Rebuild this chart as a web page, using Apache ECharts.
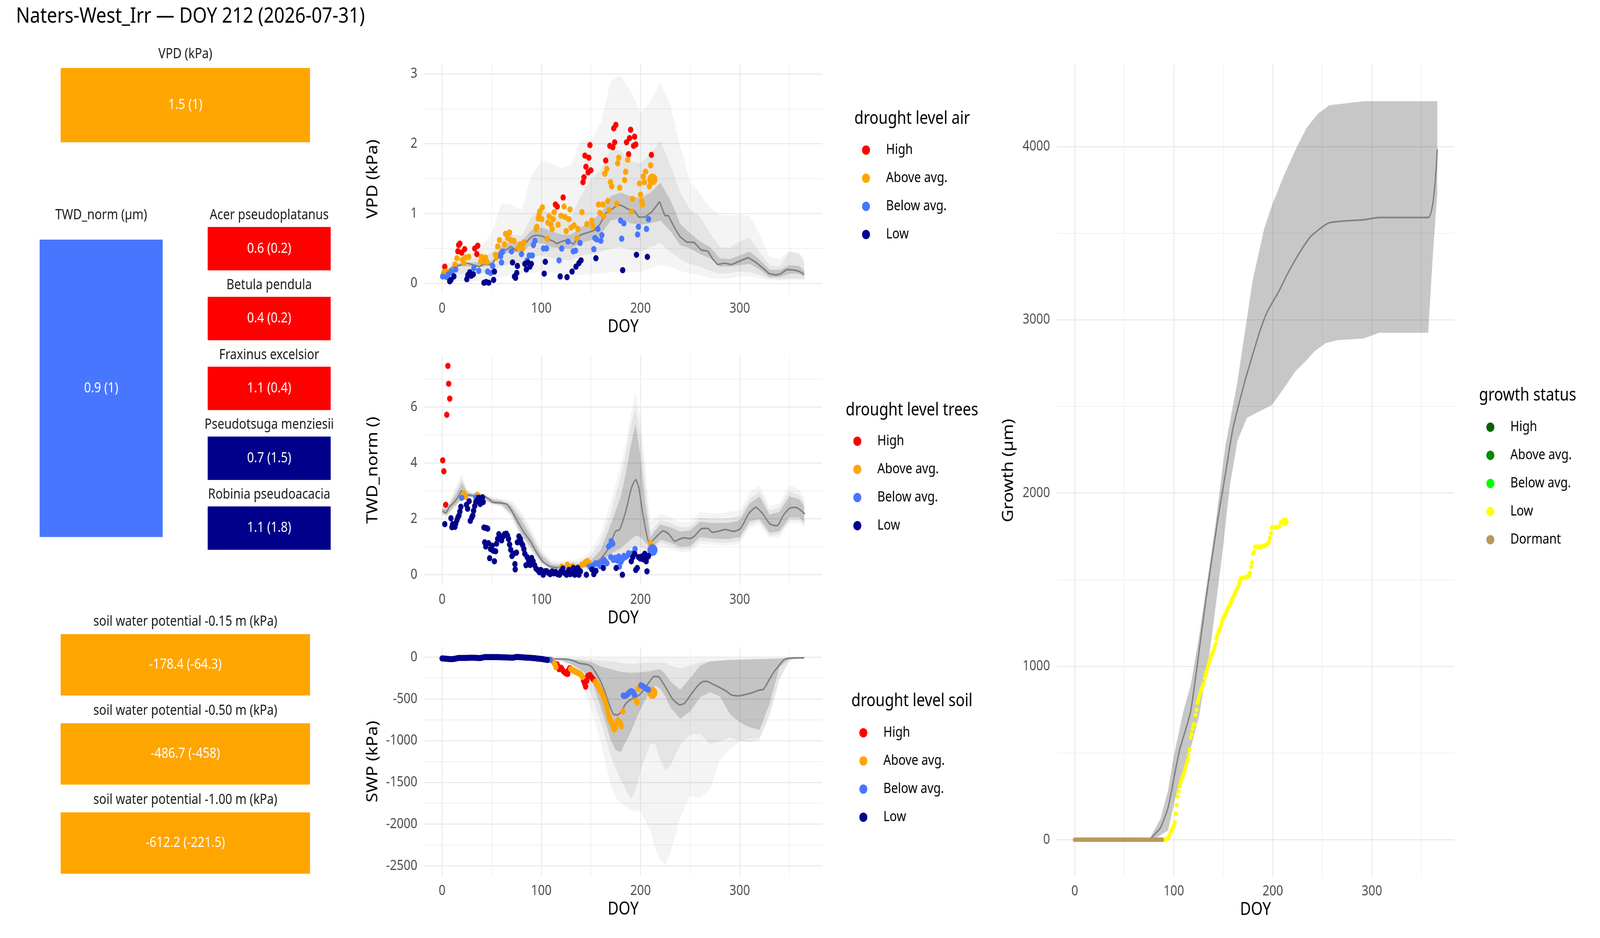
<!DOCTYPE html>
<html><head><meta charset="utf-8">
<script src="https://cdn.jsdelivr.net/npm/echarts@6/dist/echarts.min.js"></script>
<style>
html,body{margin:0;padding:0;background:#fff;overflow:hidden;width:100%;height:100%}
#wrap{position:relative;width:100vw;height:100vh;overflow:hidden;background:#fff}
#c{position:absolute;left:0;top:0;width:4800px;height:2400px;transform-origin:0 0}
</style>
</head><body><div id="wrap"><div id="c"></div></div>
<script>
// ---------------- DATA ----------------
const TITLE = 'Naters-West_Irr \u2014 DOY 212 (2026-07-31)';
const CURRENT_DOY = 212;
const LEVELS = ['High','Above avg.','Below avg.','Low'];
const LEVEL_COLORS = ['#FF0000','#FFA500','#4876FF','#00008B'];
const GROWTH_LEVELS = ['High','Above avg.','Below avg.','Low','Dormant'];
const GROWTH_COLORS = ['#006400','#008B00','#00FF00','#FFFF00','#B99A5B'];

// tiles
const vpdTileNames = ['VPD (kPa)'];
const vpdTileTexts = ['1.5 (1)'];
const vpdTileLevels = ['Above avg.'];
const twdTileNames = ['TWD_norm (\u00b5m)'];
const twdTileTexts = ['0.9 (1)'];
const twdTileLevels = ['Below avg.'];
const speciesNames = ['Acer pseudoplatanus','Betula pendula','Fraxinus excelsior','Pseudotsuga menziesii','Robinia pseudoacacia'];
const speciesTexts = ['0.6 (0.2)','0.4 (0.2)','1.1 (0.4)','0.7 (1.5)','1.1 (1.8)'];
const speciesLevels = ['High','High','High','Low','Low'];
const soilNames = ['soil water potential -0.15 m (kPa)','soil water potential -0.50 m (kPa)','soil water potential -1.00 m (kPa)'];
const soilTexts = ['-178.4 (-64.3)','-486.7 (-458)','-612.2 (-221.5)'];
const soilLevels = ['Above avg.','Above avg.','Above avg.'];

// axes ticks
const X_MAJOR = [0,100,200,300];
const X_MINOR = [50,150,250,350];
const VPD_MAJOR = [0,1,2,3], VPD_MINOR = [0.5,1.5,2.5];
const TWD_MAJOR = [0,2,4,6], TWD_MINOR = [1,3,5,7];
const SWP_MAJOR = [-2500,-2000,-1500,-1000,-500,0], SWP_MINOR = [-2250,-1750,-1250,-750,-250];
const GR_MAJOR = [0,1000,2000,3000,4000], GR_MINOR = [500,1500,2500,3500];

// VPD
const vpdHigh = [[2.7,0.24],[15.9,0.46],[16.7,0.55],[17.9,0.57],[19.7,0.44],[22.7,0.49],[32.9,0.50],[35.0,0.42],[35.9,0.54],[114.2,1.13],[116.0,1.10],[122.0,1.23],[142.0,1.45],[143.0,1.52],[143.9,1.83],[145.0,1.67],[147.2,1.59],[147.9,1.80],[149.0,1.98],[149.9,1.62],[164.9,1.76],[169.0,1.97],[172.0,1.95],[173.0,2.22],[173.9,2.02],[175.1,2.27],[185.9,2.02],[188.0,1.85],[188.9,2.08],[190.0,2.20],[193.0,1.97],[194.0,2.10],[195.2,1.99],[211.0,1.84]];
const vpdAbove = [[1.6,0.16],[3.9,0.17],[12.9,0.27],[14.9,0.36],[20.4,0.34],[21.9,0.29],[23.4,0.37],[26.9,0.38],[38.9,0.31],[39.5,0.38],[41.6,0.32],[43.7,0.37],[45.2,0.31],[53.9,0.41],[54.9,0.37],[56.0,0.53],[57.9,0.62],[62.9,0.56],[63.9,0.71],[66.2,0.65],[67.9,0.73],[69.2,0.62],[72.2,0.61],[76.7,0.51],[78.9,0.56],[81.2,0.50],[82.4,0.59],[94.7,0.78],[95.4,0.81],[96.9,0.93],[97.7,0.98],[98.4,1.03],[100.4,0.92],[101.0,1.09],[105.9,0.64],[106.7,0.87],[107.9,0.96],[109.7,0.84],[110.9,0.78],[112.0,0.92],[113.0,1.02],[116.9,0.84],[119.9,0.97],[122.9,1.10],[124.0,0.95],[125.0,0.75],[127.7,0.92],[128.9,1.06],[130.0,0.80],[133.0,0.83],[136.0,0.65],[137.0,0.78],[140.9,1.02],[146.0,0.85],[150.9,0.90],[152.0,0.82],[157.7,1.13],[158.9,1.01],[162.2,1.13],[163.0,0.96],[164.0,1.57],[166.0,1.64],[167.0,1.18],[168.2,1.05],[169.7,1.45],[170.9,1.39],[176.0,1.14],[176.9,1.72],[178.0,1.80],[179.0,1.37],[183.9,1.48],[185.0,1.60],[187.0,1.77],[191.0,1.03],[191.9,1.21],[199.0,1.43],[200.0,1.27],[200.9,1.18],[202.0,1.13],[202.7,1.53],[203.9,1.45],[205.0,1.60],[209.0,1.39],[210.2,1.69],[212,1.49]];
const vpdBelow = [[0.5,0.10],[4.7,0.09],[6.2,0.13],[9.9,0.16],[13.7,0.20],[32.0,0.22],[36.9,0.18],[45.9,0.17],[48.9,0.15],[50.9,0.25],[59.0,0.39],[59.9,0.30],[60.9,0.45],[69.9,0.46],[80.0,0.42],[85.7,0.33],[87.9,0.40],[90.9,0.40],[92.0,0.55],[93.5,0.61],[102.2,0.50],[105.2,0.50],[117.9,0.33],[120.5,0.50],[126.9,0.60],[132.2,0.46],[134.5,0.47],[139.0,0.58],[152.9,0.49],[154.0,0.65],[155.9,0.63],[157.0,0.78],[160.0,0.61],[161.0,0.69],[179.9,0.90],[181.0,0.64],[183.2,0.86],[197.0,0.70],[197.9,0.81],[206.0,0.78],[208.0,0.92]];
const vpdLow = [[7.7,0.03],[8.9,0.05],[11.9,0.10],[24.9,0.06],[26.0,0.12],[27.9,0.16],[29.4,0.11],[31.4,0.13],[42.2,0.01],[44.4,0.02],[47.0,0.01],[51.9,0.05],[52.7,0.17],[71.0,0.30],[72.9,0.10],[74.0,0.08],[75.2,0.15],[75.9,0.25],[83.4,0.28],[84.9,0.20],[86.4,0.30],[88.4,0.24],[89.9,0.28],[102.9,0.14],[104.0,0.31],[119.0,0.10],[125.9,0.09],[131.0,0.17],[134.9,0.24],[137.9,0.29],[140.0,0.33],[155.0,0.36],[182.0,0.19],[195.9,0.41],[206.9,0.38]];
const vpdMedDoy = [0.9,5,10.7,15,20,25.7,30,37.7,42.2,47,51.2,54.2,60.2,64.7,69.2,75.2,81.2,84.2,90.2,94.7,100.7,105.2,111.2,115.7,120.2,126.2,132.2,139,142.7,147.2,153.2,159.2,165.2,171.2,177.2,181.7,187.7,193.7,198.2,204.2,207.2,211.7,219.2,224.5,228,235,239.7,246.8,253.9,261,268,272.8,277.5,284.6,291.7,300,308.3,315.4,322.5,329.6,336.6,341.4,347.3,355.6,360.3,365];
const vpdMedVal = [0.12,0.17,0.23,0.25,0.27,0.29,0.27,0.24,0.28,0.27,0.29,0.37,0.49,0.48,0.53,0.47,0.52,0.58,0.67,0.69,0.68,0.64,0.61,0.57,0.60,0.62,0.56,0.69,0.71,0.73,0.76,0.85,1.01,1.06,1.13,1.11,1.06,1.04,0.95,0.95,0.98,1.03,1.17,0.97,0.97,0.78,0.67,0.59,0.59,0.48,0.46,0.35,0.27,0.29,0.27,0.32,0.37,0.31,0.23,0.14,0.12,0.14,0.20,0.19,0.17,0.13];
const vpdBandDoy = [0,10,20,30,40,50,60,70,80,90,100,110,120,130,140,150,160,170,180,190,200,210,220,230,240,250,260,270,280,290,300,310,320,330,340,350,360,365];
const vpdOuterHi = [0.20,0.33,0.42,0.48,0.54,0.72,1.15,1.13,1.05,1.55,1.76,1.72,1.65,1.70,2.05,2.05,2.30,2.90,2.98,2.75,2.45,2.60,2.88,2.55,1.97,1.45,1.28,1.08,0.98,0.97,0.99,0.97,0.70,0.38,0.35,0.47,0.44,0.35];
const vpdOuterLo = [0.05,0.03,0.03,0.03,0.03,0.05,0.10,0.12,0.13,0.15,0.18,0.16,0.14,0.12,0.12,0.13,0.14,0.16,0.16,0.16,0.16,0.22,0.27,0.24,0.18,0.14,0.12,0.08,0.06,0.07,0.10,0.10,0.08,0.05,0.04,0.05,0.05,0.05];
const vpdMidHi = [0.16,0.27,0.33,0.36,0.38,0.44,0.62,0.70,0.68,0.95,1.05,1.02,0.98,0.95,1.25,1.50,1.62,1.92,1.90,1.75,1.72,1.85,2.04,1.70,1.30,1.05,0.95,0.72,0.52,0.51,0.60,0.65,0.45,0.26,0.24,0.45,0.42,0.30];
const vpdMidLo = [0.07,0.12,0.14,0.13,0.15,0.16,0.25,0.28,0.28,0.38,0.40,0.36,0.34,0.33,0.40,0.42,0.45,0.50,0.52,0.48,0.46,0.52,0.58,0.45,0.35,0.28,0.24,0.18,0.14,0.15,0.17,0.16,0.12,0.07,0.06,0.07,0.07,0.06];
const vpdInnerHi = [0.13,0.25,0.30,0.30,0.30,0.32,0.54,0.60,0.60,0.76,0.80,0.75,0.70,0.70,0.80,0.90,1.00,1.25,1.30,1.25,1.22,1.30,1.44,1.20,0.85,0.72,0.60,0.52,0.36,0.35,0.40,0.46,0.34,0.20,0.19,0.26,0.25,0.18];
const vpdInnerLo = [0.08,0.20,0.25,0.24,0.24,0.26,0.42,0.45,0.44,0.56,0.58,0.52,0.50,0.50,0.58,0.62,0.70,0.90,0.93,0.86,0.84,0.86,0.90,0.75,0.55,0.50,0.42,0.36,0.24,0.24,0.26,0.28,0.20,0.09,0.09,0.14,0.14,0.09];

// TWD
const twdHigh = [[0.6,4.09],[1.7,3.70],[3.6,2.50],[4.7,5.72],[5.8,7.47],[6.6,6.83],[7.7,6.30]];
const twdAbove = [[21.9,2.91],[23.4,2.79],[35.6,2.86],[120.5,0.29],[126.2,0.36],[131.4,0.31],[140.4,0.34],[142.7,0.39],[145.0,0.46],[146.5,0.49],[148.0,0.43],[210.2,1.13]];
const twdBelow = [[19.7,2.75],[33.9,2.77],[148.7,0.29],[150.2,0.24],[152.4,0.34],[154.7,0.41],[157.0,0.39],[159.2,0.31],[160.7,0.43],[163.0,0.53],[164.5,0.48],[166.0,0.41],[167.9,1.01],[169.4,1.06],[170.5,1.20],[172.0,1.11],[170.0,0.63],[172.7,0.53],[174.2,0.60],[176.4,0.51],[177.9,0.65],[178.7,0.29],[180.2,0.46],[181.7,0.55],[183.2,0.67],[184.7,0.63],[186.2,0.67],[188.0,0.77],[190.0,0.72],[192.2,0.77],[194.5,0.92],[212,0.88]];
const twdLow = [[2.7,1.81],[8.9,2.02],[9.9,1.70],[10.6,1.81],[12.9,1.71],[13.7,1.83],[14.9,1.95],[15.9,2.05],[17.0,2.12],[17.9,2.26],[18.9,2.43],[24.5,2.50],[25.7,2.36],[27.2,2.63],[28.4,1.93],[29.9,2.05],[30.9,2.12],[31.7,2.29],[32.9,2.46],[33.9,2.60],[35.4,2.67],[36.9,2.75],[38.4,2.53],[39.5,2.67],[40.7,2.77],[41.4,2.60],[42.2,1.69],[44.4,1.67],[45.9,1.65],[42.9,1.16],[44.0,1.01],[46.7,1.13],[47.9,0.59],[48.9,0.92],[50.4,1.04],[51.5,0.86],[52.7,0.48],[53.9,0.84],[54.9,1.11],[56.0,1.28],[57.2,1.45],[58.7,1.35],[59.9,1.23],[61.4,1.37],[62.9,1.45],[64.7,1.47],[65.9,1.40],[66.9,1.28],[68.0,1.08],[69.2,0.89],[70.4,0.67],[71.9,0.75],[73.4,0.38],[73.7,0.19],[74.9,0.79],[75.9,1.16],[77.4,1.37],[78.9,1.28],[80.0,1.13],[81.2,1.06],[82.4,0.92],[83.4,0.75],[84.5,0.34],[85.7,0.63],[87.2,0.51],[88.7,0.35],[90.2,0.60],[91.7,0.48],[93.2,0.34],[94.7,0.22],[96.2,0.17],[98.0,0.09],[99.5,0.17],[101.9,0.00],[103.4,0.12],[105.2,0.13],[107.0,0.07],[108.9,0.02],[110.9,0.12],[112.7,0.05],[114.5,0.10],[116.4,0.02],[118.4,0.00],[119.9,0.12],[121.7,0.22],[123.2,0.07],[125.4,0.00],[127.7,0.17],[129.2,0.02],[130.7,0.14],[132.2,0.24],[133.7,0.00],[135.2,0.07],[136.7,0.24],[137.9,0.00],[139.4,0.12],[145.4,0.00],[151.0,0.19],[152.9,0.02],[155.0,0.14],[162.5,0.24],[175.4,0.24],[181.7,0.00],[190.7,0.48],[192.2,0.63],[194.0,0.75],[195.2,0.17],[196.7,0.24],[198.0,0.63],[199.7,0.58],[201.2,0.65],[202.7,0.55],[204.2,0.75],[205.7,0.48],[206.9,0.63],[206.5,0.12],[208.0,0.67]];
const twdMedDoy = [0.6,3.6,7.5,10.7,15,19.7,22.5,28.9,35.4,41.8,47.2,51.4,59,65.4,69.7,76.1,82.5,89,95.4,101.8,108.3,116.8,127.5,138.3,149,159.7,168.3,174.7,179,185.4,190.8,195.1,198.3,202.6,209.2,216.8,222.7,228.6,234.5,240.4,244,249.9,254.6,261.7,267.6,272.3,278.2,285.3,293.6,300.7,309,316.1,323.2,330.3,337.4,344.4,350.4,356.7,365.7];
const twdMedVal = [2.28,2.21,2.44,2.54,2.72,3.00,2.87,2.84,2.79,2.81,2.71,2.59,2.57,2.52,2.31,1.91,1.52,1.19,0.79,0.46,0.30,0.25,0.30,0.30,0.36,0.56,0.99,1.55,1.62,2.31,3.10,3.40,3.10,2.11,1.12,1.39,1.57,1.45,1.20,1.29,1.32,1.29,1.39,1.65,1.66,1.52,1.55,1.62,1.55,1.65,2.18,2.41,2.18,1.82,1.75,2.15,2.38,2.41,2.17];
const twdBandDoy = [0,5,10,15,20,25,30,40,50,60,70,80,90,100,110,120,130,140,150,160,170,180,185,190,195,200,205,210,215,220,230,240,250,260,270,280,290,300,310,320,330,340,350,360,365];
const twdOuterHi = [2.45,2.48,2.85,3.25,3.60,3.05,2.96,2.94,2.80,2.72,2.65,2.25,1.62,0.90,0.52,0.48,0.52,0.60,0.85,1.50,2.60,3.90,4.70,5.70,6.50,5.60,3.80,1.90,2.05,2.20,2.05,1.88,1.90,2.25,2.20,2.20,2.25,2.30,2.95,3.20,2.45,2.55,3.20,3.05,2.75];
const twdOuterLo = [2.10,2.05,2.25,2.45,2.65,2.72,2.74,2.70,2.50,2.44,2.00,1.25,0.80,0.35,0.18,0.15,0.17,0.17,0.20,0.25,0.30,0.42,0.50,0.60,0.70,0.70,0.70,0.72,0.85,1.00,0.92,0.80,0.82,1.10,1.08,1.05,1.05,1.12,1.68,1.80,1.32,1.35,1.85,1.85,1.70];
const twdMidHi = [2.40,2.40,2.75,3.10,3.45,3.00,2.93,2.90,2.75,2.68,2.55,2.10,1.50,0.80,0.45,0.40,0.45,0.50,0.70,1.20,2.20,3.50,4.30,5.30,6.00,5.00,3.20,1.55,1.75,1.95,1.85,1.70,1.72,2.05,2.00,2.00,2.02,2.10,2.72,2.98,2.30,2.40,2.98,2.85,2.60];
const twdMidLo = [2.15,2.10,2.32,2.50,2.70,2.75,2.76,2.72,2.53,2.47,2.10,1.35,0.88,0.40,0.20,0.18,0.20,0.20,0.25,0.35,0.45,0.55,0.65,0.90,1.05,1.00,0.90,0.85,0.98,1.15,1.05,0.90,0.92,1.22,1.18,1.15,1.15,1.22,1.78,1.90,1.40,1.45,1.95,1.95,1.78];
const twdInnerHi = [2.36,2.35,2.65,2.95,3.30,2.95,2.90,2.86,2.70,2.63,2.45,1.95,1.35,0.70,0.38,0.33,0.38,0.40,0.50,0.90,1.80,2.80,3.60,4.60,5.40,4.20,2.50,1.35,1.60,1.80,1.70,1.55,1.58,1.90,1.85,1.85,1.86,1.95,2.55,2.80,2.15,2.25,2.80,2.70,2.45];
const twdInnerLo = [2.20,2.15,2.38,2.55,2.75,2.78,2.78,2.74,2.56,2.50,2.18,1.45,0.95,0.45,0.22,0.20,0.24,0.24,0.30,0.45,0.75,0.95,1.10,1.25,1.40,1.35,1.15,0.95,1.08,1.25,1.15,1.00,1.02,1.35,1.30,1.28,1.28,1.35,1.90,2.00,1.50,1.55,2.05,2.05,1.88];

// SWP
const swpLow = [[0,-14],[2,-16],[4,-18],[6,-20],[8,-22],[10,-22],[12,-20],[14,-15],[16,-10],[18,-8],[20,-8],[22,-8],[24,-8],[26,-7],[28,-6],[30,-6],[32,-6],[34,-7],[36,-8],[38,-10],[40,-6],[42,0],[44,2],[46,2],[48,2],[50,2],[52,2],[54,2],[56,2],[58,1],[60,0],[62,-1],[64,-2],[66,-3],[68,-4],[70,-5],[72,-4],[74,2],[76,3],[78,2],[80,0],[82,-2],[84,-4],[86,-5],[88,-6],[90,-8],[92,-10],[94,-12],[96,-15],[98,-18],[100,-20],[102,-24],[104,-28],[106,-32]];
const swpBelow = [[108,-30],[109,-31],[182.6,-458],[183.5,-465],[185.4,-458],[186.5,-446],[187.6,-435],[188.6,-423],[189.7,-414],[190.8,-406],[191.9,-414],[192.9,-423],[194,-453],[200.5,-336],[201.5,-341],[202.6,-350],[203.6,-360],[204.7,-368],[205.8,-376],[206.9,-382],[207.9,-388]];
const swpAbove = [[110.4,-33],[111.5,-45],[112.5,-62],[113.6,-84],[114.7,-119],[129.7,-140],[130.8,-150],[131.9,-157],[133,-164],[134,-171],[135,-178],[136.1,-184],[137.2,-190],[138.2,-196],[139.3,-201],[140.4,-218],[141.5,-236],[154.3,-294],[155.4,-310],[156.5,-329],[157.5,-352],[158.6,-376],[159.7,-400],[160.8,-423],[161.9,-452],[162.9,-481],[164,-520],[165.1,-563],[166.2,-615],[167.2,-668],[168.3,-710],[169.3,-750],[170.4,-780],[171.5,-808],[172.6,-840],[173.6,-867],[174.4,-840],[175.1,-808],[176.2,-780],[177.3,-757],[178.4,-770],[179.4,-785],[180.7,-827],[182.2,-650],[184.3,-470],[195,-505],[195.8,-522],[196.6,-540],[197.9,-376],[198.7,-360],[199.4,-346],[212,-427]];
const swpHigh = [[115.8,-84],[116.8,-110],[117.9,-142],[119,-135],[120,-126],[121,-145],[122.2,-166],[123.3,-178],[124.3,-189],[125.4,-196],[126.5,-201],[127.5,-154],[128.6,-131],[142.6,-283],[143.7,-318],[144.7,-353],[145.8,-283],[146.8,-224],[147.9,-218],[149,-213],[150,-230],[151.1,-248],[152,-260],[152.8,-271]];
const swpMedDoy = [0,20,40,60,80,100,108,117,127,134,138,147,151,155,160,164,168,172.6,176.8,181,185.4,192,198,202,209,213.7,218.4,225.5,232.6,239.7,244.4,251.5,258.6,263.4,266.9,272.8,279.9,287,291.7,298.8,305.9,313,320.1,323.6,329.6,334.3,339,344.9,353.2,365];
const swpMedVal = [-3,-3,-2,-2,-3,-6,-19,-20,-25,-49,-72,-89,-119,-189,-294,-411,-551,-680,-691,-645,-551,-493,-458,-411,-294,-229,-236,-364,-505,-570,-551,-434,-329,-290,-290,-322,-364,-411,-453,-463,-446,-423,-392,-388,-271,-178,-107,-26,-9,-7];
const swpBandDoy = [0,20,40,60,80,100,110,120,130,140,150,160,170,175,180,190,195,200,210,215,220,225,230,240,250,260,270,280,290,300,310,320,330,340,350,360,365];
const swpOuterHi = [-2,-2,-2,-2,-2,-3,-3,-3,-4,-4,-5,-5,-6,-6,-6,-7,-7,-7,-7,-7,-7,-7,-7,-7,-7,-7,-7,-7,-7,-7,-6,-6,-5,-4,-3,-2,-2];
const swpOuterLo = [-5,-5,-5,-6,-8,-10,-15,-30,-90,-280,-620,-1030,-1540,-1680,-1750,-1830,-1840,-1840,-2080,-2300,-2430,-2495,-2350,-1920,-1660,-1690,-1580,-1230,-1100,-1010,-975,-960,-700,-250,-50,-10,-5];
const swpMidHi = [-3,-3,-3,-3,-4,-8,-10,-12,-15,-20,-30,-40,-48,-55,-65,-84,-78,-70,-62,-60,-62,-68,-100,-131,-96,-60,-45,-40,-38,-36,-30,-25,-20,-15,-8,-5,-5];
const swpMidLo = [-5,-5,-5,-6,-8,-12,-20,-50,-110,-220,-430,-770,-1180,-1330,-1470,-1700,-1600,-1350,-1030,-1050,-1230,-1360,-1300,-1050,-925,-920,-1040,-1010,-960,-1000,-1019,-990,-690,-280,-40,-10,-5];
const swpInnerHi = [-4,-4,-4,-4,-5,-10,-14,-18,-25,-40,-56,-110,-142,-160,-175,-185,-183,-180,-168,-150,-145,-200,-290,-388,-250,-100,-50,-40,-30,-26,-22,-20,-18,-14,-10,-8,-8];
const swpInnerLo = [-5,-5,-5,-5,-7,-12,-20,-40,-80,-150,-250,-600,-990,-1112,-1135,-900,-760,-620,-400,-341,-380,-470,-600,-738,-650,-480,-420,-470,-680,-780,-840,-870,-560,-120,-20,-10,-8];

// Growth
const growthDormant = [[0,0],[2,0],[4,0],[6,0],[8,0],[10,0],[12,0],[14,0],[16,0],[18,0],[20,0],[22,0],[24,0],[26,0],[28,0],[30,0],[32,0],[34,0],[36,0],[38,0],[40,0],[42,0],[44,0],[46,0],[48,0],[50,0],[52,0],[54,0],[56,0],[58,0],[60,0],[62,0],[64,0],[66,0],[68,0],[70,0],[72,0],[74,0],[76,0],[78,0],[80,0],[82,0],[84,0],[86,0],[88,0]];
const growthLow = [[89,0],[90,0],[91,0],[92,2],[93,5],[94,10],[95,15],[96,30],[97,45],[98,55],[99,65],[100,80],[101,100],[102,150],[103,200],[104,250],[105,280],[106,310],[107,330],[108,350],[109,365],[110,380],[111,400],[112,420],[113,440],[114,460],[115,490],[116,520],[117,590],[118,610],[119,640],[120,665],[121,665],[122,720],[123,750],[124,790],[125,810],[126,830],[127,850],[128,870],[129,885],[130,900],[131,930],[132,950],[133,970],[134,990],[135,1010],[136,1030],[137,1050],[138,1065],[139,1075],[140,1090],[141,1110],[142,1130],[143,1160],[144,1180],[145,1200],[146,1210],[147,1225],[148,1245],[149,1265],[150,1280],[151,1290],[152,1300],[153,1315],[154,1330],[155,1340],[156,1350],[157,1360],[158,1375],[159,1390],[160,1400],[161,1410],[162,1425],[163,1440],[164,1450],[165,1460],[166,1480],[167,1500],[168,1510],[169,1510],[170,1510],[171,1510],[172,1512],[173,1515],[174,1518],[175,1520],[176,1525],[177,1540],[178,1575],[179,1600],[180,1650],[181,1660],[182,1690],[183,1690],[184,1690],[185,1690],[186,1690],[187,1690],[188,1690],[189,1692],[190,1693],[191,1694],[192,1695],[193,1700],[194,1705],[195,1707],[196,1720],[197,1740],[198,1770],[199,1800],[200,1800],[201,1800],[202,1800],[203,1802],[204,1803],[205,1804],[206,1805],[207,1810],[208,1830],[209,1833],[210,1835],[211,1835],[212,1835]];
const growthMedDoy = [0,75,78.8,86.5,94.2,100,105.8,113.5,117.3,123,132.6,144.2,151.9,159.6,171.2,186.7,194.4,206,214.5,226,237.7,249.3,257,272.5,291.8,307.3,356.8,366];
const growthMedVal = [0,0,20,69,185,351,516,665,748,979,1393,1840,2104,2369,2634,2931,3047,3163,3262,3378,3477,3533,3560,3570,3577,3590,3590,3984];
const growthUpDoy = [0,75,86.5,94.2,100,110,117.3,125.6,141,152,164,179.7,191.3,199,210.7,222.3,233.9,245.5,257,291.8,366];
const growthUpVal = [0,0,119,285,483,748,897,1178,1773,2270,2634,3229,3527,3659,3825,3974,4106,4189,4238,4261,4261];
const growthLoDoy = [0,79,94.2,102,110,117.3,125.6,137,148.8,156.5,164.3,174,187.5,199,210.7,222.3,233.9,241.6,253.2,264.8,291.8,307.3,356.8,361.4,366];
const growthLoVal = [0,0,53,251,400,533,715,1112,1641,2038,2303,2435,2475,2508,2601,2700,2766,2816,2865,2882,2892,2925,2925,3361,3725];

// ---------------- CHART ----------------
const FONT = 'Noto Sans';
const X_MIN = -18.25, X_MAX = 383.25;
const zip = (a, b) => a.map((v, i) => [v, b[i]]);

function valueAxis(g, min, max, ticks, labels, lw, extra) {
  return Object.assign({
    type: 'value', gridIndex: g, min: min, max: max,
    axisLine: {show: false}, axisTick: {show: false, customValues: ticks},
    axisLabel: {show: labels, customValues: ticks, color: '#4D4D4D', fontSize: 36, fontFamily: FONT, margin: 20, formatter: v => String(v)},
    splitLine: {show: true, lineStyle: {color: '#EBEBEB', width: lw}},
    splitArea: {show: false}, minorTick: {show: false}, minorSplitLine: {show: false}
  }, extra || {});
}
const nameStyle = {fontSize: 45, color: '#000', fontFamily: FONT};
function panelAxes(g, ymin, ymax, yMajor, yMinor, yName, yGap) {
  return {
    x: [valueAxis(g, X_MIN, X_MAX, X_MAJOR, true, 3, {position: 'bottom', name: 'DOY', nameLocation: 'middle', nameGap: 63, nameTextStyle: nameStyle}),
        valueAxis(g, X_MIN, X_MAX, X_MINOR, false, 1.5, {position: 'top'})],
    y: [valueAxis(g, ymin, ymax, yMajor, true, 3, {position: 'left', name: yName, nameLocation: 'middle', nameGap: yGap, nameRotate: 90, nameTextStyle: nameStyle}),
        valueAxis(g, ymin, ymax, yMinor, false, 1.5, {position: 'right'})]
  };
}
function bandSeries(ai, upX, upY, loX, loY, fill, z) {
  return {type: 'custom', xAxisIndex: ai, yAxisIndex: ai, z: z, silent: true, clip: true,
    data: [[upX[0], upY[0]]], encode: {x: 0, y: 1},
    renderItem: (params, api) => {
      const pts = [];
      for (let i = 0; i < upX.length; i++) pts.push(api.coord([upX[i], upY[i]]));
      for (let i = loX.length - 1; i >= 0; i--) pts.push(api.coord([loX[i], loY[i]]));
      return {type: 'polygon', shape: {points: pts}, style: {fill: fill}};
    }};
}
function lineSeries(ai, xs, ys, smooth) {
  return {type: 'line', xAxisIndex: ai, yAxisIndex: ai, data: zip(xs, ys), showSymbol: false, symbol: 'none',
    smooth: smooth, lineStyle: {color: '#7F7F7F', width: 4}, z: 4, silent: true, clip: true};
}
function scatterSeries(ai, name, color, pts, size, big) {
  return {type: 'scatter', name: name, xAxisIndex: ai, yAxisIndex: ai, data: pts, z: 5, silent: true,
    itemStyle: {color: color, opacity: 1}, symbol: 'circle',
    symbolSize: v => (v[0] === CURRENT_DOY ? big : size)};
}
function panelSeries(ai, bandDoy, oLo, oHi, mLo, mHi, iLo, iHi, medX, medY, smooth, groups) {
  const s = [
    bandSeries(ai, bandDoy, oHi, bandDoy, oLo, 'rgba(0,0,0,0.045)', 1),
    bandSeries(ai, bandDoy, mHi, bandDoy, mLo, 'rgba(0,0,0,0.06)', 2),
    bandSeries(ai, bandDoy, iHi, bandDoy, iLo, 'rgba(0,0,0,0.14)', 3),
    lineSeries(ai, medX, medY, smooth)
  ];
  groups.forEach((pts, k) => s.push(scatterSeries(ai, LEVELS[k], LEVEL_COLORS[k], pts, 16, 30)));
  return s;
}
function tileSeries(ai, names, texts, levels, barWidth, dist) {
  return [
    {type: 'bar', xAxisIndex: ai, yAxisIndex: ai, barWidth: barWidth, barGap: '-100%', silent: true,
     data: names.map((n, i) => ({value: 1, itemStyle: {color: LEVEL_COLORS[LEVELS.indexOf(levels[i])]}})),
     label: {show: true, position: 'inside', formatter: p => texts[p.dataIndex], color: '#FFFFFF', fontSize: 36, fontFamily: FONT}},
    {type: 'bar', xAxisIndex: ai, yAxisIndex: ai, barWidth: barWidth, barGap: '-100%', silent: true,
     data: names.map(() => 1), itemStyle: {color: 'rgba(0,0,0,0)'},
     label: {show: true, position: 'top', distance: dist, formatter: p => names[p.dataIndex], color: '#1A1A1A', fontSize: 36, lineHeight: 36, fontFamily: FONT}}
  ];
}
function tileAxes(g, names) {
  return {x: {type: 'value', gridIndex: g, min: 0, max: 1, show: false},
          y: {type: 'category', gridIndex: g, data: names, inverse: true, show: false}};
}
function legendAt(left, top, names) {
  return {orient: 'vertical', left: left, top: top, padding: 0, itemGap: 36, itemWidth: 24, itemHeight: 24,
    icon: 'circle', selectedMode: false, data: names,
    textStyle: {fontFamily: FONT, fontSize: 36, color: '#000', lineHeight: 36, padding: [0, 0, 0, 43]}};
}

const grids = [
  {left: 1272, top: 164, width: 1195, height: 588},   // 0 VPD
  {left: 1272, top: 909, width: 1195, height: 588},   // 1 TWD
  {left: 1272, top: 1655, width: 1195, height: 587},  // 2 SWP
  {left: 3170, top: 165, width: 1193, height: 2078},  // 3 Growth
  {left: 182, top: 174, width: 748, height: 190},     // 4 VPD tile
  {left: 119, top: 613, width: 369, height: 761},     // 5 TWD tile
  {left: 623, top: 547, width: 369, height: 893.5},   // 6 species
  {left: 182, top: 1587, width: 748, height: 684}     // 7 soil
];
const pa = [
  panelAxes(0, -0.15, 3.14, VPD_MAJOR, VPD_MINOR, 'VPD (kPa)', 130),
  panelAxes(1, -0.37, 7.85, TWD_MAJOR, TWD_MINOR, 'TWD_norm ()', 130),
  panelAxes(2, -2625, 125, SWP_MAJOR, SWP_MINOR, 'SWP (kPa)', 130),
  panelAxes(3, -213, 4473, GR_MAJOR, GR_MINOR, 'Growth (\u00b5m)', 121)
];
const ta = [tileAxes(4, vpdTileNames), tileAxes(5, twdTileNames), tileAxes(6, speciesNames), tileAxes(7, soilNames)];
const xAxis = [], yAxis = [];
pa.forEach(p => { xAxis.push(p.x[0], p.x[1]); yAxis.push(p.y[0], p.y[1]); });
ta.forEach(t => { xAxis.push(t.x); yAxis.push(t.y); });

let series = [];
series = series.concat(panelSeries(0, vpdBandDoy, vpdOuterLo, vpdOuterHi, vpdMidLo, vpdMidHi, vpdInnerLo, vpdInnerHi, vpdMedDoy, vpdMedVal, false, [vpdHigh, vpdAbove, vpdBelow, vpdLow]));
series = series.concat(panelSeries(2, twdBandDoy, twdOuterLo, twdOuterHi, twdMidLo, twdMidHi, twdInnerLo, twdInnerHi, twdMedDoy, twdMedVal, 0.2, [twdHigh, twdAbove, twdBelow, twdLow]));
series = series.concat(panelSeries(4, swpBandDoy, swpOuterLo, swpOuterHi, swpMidLo, swpMidHi, swpInnerLo, swpInnerHi, swpMedDoy, swpMedVal, 0.2, [swpHigh, swpAbove, swpBelow, swpLow]));
series.push(bandSeries(6, growthUpDoy, growthUpVal, growthLoDoy, growthLoVal, 'rgba(0,0,0,0.22)', 1));
series.push(lineSeries(6, growthMedDoy, growthMedVal, 0.2));
const growthPts = [[], [], [], growthLow, growthDormant];
GROWTH_LEVELS.forEach((n, k) => series.push(scatterSeries(6, n + ' ', GROWTH_COLORS[k], growthPts[k], 12, 22)));
series = series.concat(tileSeries(8, vpdTileNames, vpdTileTexts, vpdTileLevels, '100%', 17));
series = series.concat(tileSeries(9, twdTileNames, twdTileTexts, twdTileLevels, '100%', 44));
series = series.concat(tileSeries(10, speciesNames, speciesTexts, speciesLevels, 111, 12));
series = series.concat(tileSeries(11, soilNames, soilTexts, soilLevels, 157, 14));

const txt = (x, y, text, size) => ({type: 'text', x: x, y: y, silent: true,
  style: {text: text, fontSize: size, fontFamily: FONT, fill: '#000', align: 'left', verticalAlign: 'middle'}});

const option = {
  backgroundColor: '#FFFFFF',
  animation: false,
  grid: grids,
  xAxis: xAxis,
  yAxis: yAxis,
  legend: [
    legendAt(2586, 366, LEVELS),
    legendAt(2560, 1111, LEVELS),
    legendAt(2578, 1857, LEVELS),
    legendAt(4459, 1075, GROWTH_LEVELS.map(n => n + ' '))
  ],
  graphic: [
    txt(48, 42, TITLE, 55),
    txt(2563, 304, 'drought level air', 45),
    txt(2537, 1050, 'drought level trees', 45),
    txt(2554, 1794, 'drought level soil', 45),
    txt(4437, 1012, 'growth status', 45)
  ],
  series: series
};
// The 4800x2400 design is mapped onto the whole viewport (the browser may cap its width below 4800 px).
const SX = (window.innerWidth || 4800) / 4800;
const SY = (window.innerHeight || 2400) / 2400;
const el = document.getElementById('c');
el.style.transform = 'scale(' + SX + ',' + SY + ')';
const dpr = Math.max(1, Math.max(SX, SY) * (window.devicePixelRatio || 1));
const chart = echarts.init(el, null, {width: 4800, height: 2400, devicePixelRatio: dpr});
chart.setOption(option);
</script></body></html>
